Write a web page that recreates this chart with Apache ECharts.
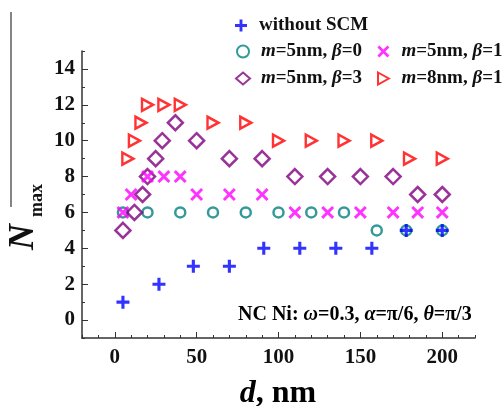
<!DOCTYPE html>
<html><head><meta charset="utf-8">
<script src="https://cdn.jsdelivr.net/npm/echarts@6/dist/echarts.min.js"></script>
<style>html,body{margin:0;padding:0;background:#fff}#c{width:504px;height:406px}</style>
</head><body><div id="c"></div>
<script>
// ---- data (d in nm, Nmax) ----
var noScmD = [5, 27, 48, 70, 91, 113, 135, 157, 178, 200];
var noScmN = [1, 2, 3, 3, 4, 4, 4, 4, 5, 5];
var b0D = [5, 20, 40, 60, 80, 100, 120, 140, 160, 178, 200];
var b0N = [6, 6, 6, 6, 6, 6, 6, 6, 5, 5, 5];
var b1D = [5, 10, 20, 30, 40, 50, 70, 90, 110, 130, 150, 170, 185, 200];
var b1N = [6, 7, 8, 8, 8, 7, 7, 7, 6, 6, 6, 6, 6, 6];
var b3D = [5, 12, 17, 20, 25, 29, 37, 50, 70, 90, 110, 130, 150, 170, 185, 200];
var b3N = [5, 6, 7, 8, 9, 10, 11, 10, 9, 9, 8, 8, 8, 8, 7, 7];
var m8D = [8, 12, 16, 20, 30, 40, 60, 80, 100, 120, 140, 160, 180, 200];
var m8N = [9, 10, 11, 12, 12, 12, 11, 11, 10, 10, 10, 10, 9, 9];
var xLabels = [0, 50, 100, 150, 200];
var yLabels = [0, 2, 4, 6, 8, 10, 12, 14];
var seriesNames = ['without SCM', 'm=5nm, β=0', 'm=5nm, β=1', 'm=5nm, β=3', 'm=8nm, β=1'];

function pairs(xs, ys) { return xs.map(function (x, i) { return [x, ys[i]]; }); }

var FONT = '"Liberation Serif", "Times New Roman", serif';
var PLUS = 'path://M3.8,0H6.2V3.8H10V6.2H6.2V10H3.8V6.2H0V3.8H3.8Z';
var CROSS = 'path://M0,1.6L1.6,0L5,3.4L8.4,0L10,1.6L6.6,5L10,8.4L8.4,10L5,6.6L1.6,10L0,8.4L3.4,5Z';
var RTRI = 'path://M0,0L9,5L0,10Z';

var legendRich = {
  i: { fontFamily: FONT, fontWeight: 'bold', fontStyle: 'italic', fontSize: 19, color: '#111', lineHeight: 18 },
  n: { fontFamily: FONT, fontWeight: 'bold', fontSize: 19, color: '#111', lineHeight: 18 }
};
function legendFmt(name) {
  if (name === 'without SCM') return '{n|without SCM}';
  var p = name.split(', ');
  return '{i|m}{n|' + p[0].slice(1) + ', }{i|β}{n|' + p[1].slice(1) + '}';
}
var legendBase = {
  orient: 'vertical', itemWidth: 14, itemHeight: 12, itemGap: 8,
  formatter: legendFmt,
  textStyle: { rich: legendRich, padding: [0, 0, 0, 6], lineHeight: 18 },
  selectedMode: false
};

var noZero = { show: true, onZero: false, lineStyle: { color: '#333', width: 1.5 } };

var chart = echarts.init(document.getElementById('c'), null, { renderer: 'canvas' });
chart.setOption({
  animation: false,
  backgroundColor: '#fff',
  grid: { left: 82, right: 29, top: 51, bottom: 68 },
  legend: [
    Object.assign({}, legendBase, { data: [seriesNames[0]], left: 230, top: 11 }),
    Object.assign({}, legendBase, { data: [seriesNames[1], seriesNames[3]], left: 230, top: 37 }),
    Object.assign({}, legendBase, { data: [seriesNames[2], seriesNames[4]], left: 372, top: 37 })
  ],
  xAxis: [{
    type: 'value', min: -20, max: 220, interval: 10,
    axisLine: noZero,
    axisTick: { show: true, inside: true, length: 3, lineStyle: { color: '#333' } },
    axisLabel: { show: false },
    splitLine: { show: false }
  }, {
    type: 'value', min: -20, max: 220, position: 'bottom',
    axisLine: { show: false, onZero: false },
    axisTick: { show: true, inside: true, length: 6, customValues: xLabels, lineStyle: { color: '#333' } },
    axisLabel: { show: true, customValues: xLabels, margin: 9, fontFamily: FONT, fontWeight: 'bold', fontSize: 21, color: '#111' },
    splitLine: { show: false }
  }],
  yAxis: [{
    type: 'value', min: -1, max: 15, interval: 1,
    axisLine: noZero,
    axisTick: { show: true, inside: true, length: 3, lineStyle: { color: '#333' } },
    axisLabel: { show: false },
    splitLine: { show: false }
  }, {
    type: 'value', min: -1, max: 15, position: 'left',
    axisLine: { show: false, onZero: false },
    axisTick: { show: true, inside: true, length: 6, customValues: yLabels, lineStyle: { color: '#333' } },
    axisLabel: { show: true, customValues: yLabels, margin: 7, fontFamily: FONT, fontWeight: 'bold', fontSize: 21, color: '#111' },
    splitLine: { show: false }
  }],
  series: [
    { name: seriesNames[0], type: 'scatter', data: pairs(noScmD, noScmN), symbol: PLUS, symbolSize: 13,
      itemStyle: { color: '#0000ff' }, z: 5 },
    { name: seriesNames[1], type: 'scatter', data: pairs(b0D, b0N), symbol: 'circle', symbolSize: 10,
      itemStyle: { color: 'rgba(0,0,0,0)', borderColor: '#008080', borderWidth: 2.5 }, z: 3 },
    { name: seriesNames[2], type: 'scatter', data: pairs(b1D, b1N), symbol: CROSS, symbolSize: 13,
      itemStyle: { color: '#ff00ff' }, z: 4 },
    { name: seriesNames[3], type: 'scatter', data: pairs(b3D, b3N), symbol: 'diamond', symbolSize: 15,
      itemStyle: { color: 'rgba(0,0,0,0)', borderColor: '#800080', borderWidth: 2.5 }, z: 3 },
    { name: seriesNames[4], type: 'scatter', data: pairs(m8D, m8N), symbol: RTRI, symbolSize: [11, 12],
      itemStyle: { color: 'rgba(0,0,0,0)', borderColor: '#ff0000', borderWidth: 2.5 }, z: 3 }
  ],
  graphic: [
    { type: 'line', shape: { x1: 11, y1: 12, x2: 11, y2: 207 }, style: { stroke: '#333', lineWidth: 1.2 } },
    { type: 'text', x: 42, y: 250, rotation: Math.PI / 2,
      style: { text: 'N', align: 'left', verticalAlign: 'bottom',
        fontFamily: FONT, fontWeight: 'bold', fontStyle: 'italic', fontSize: 36, fill: '#111' } },
    { type: 'text', x: 46, y: 217, rotation: Math.PI / 2,
      style: { text: 'max', align: 'left', verticalAlign: 'bottom',
        fontFamily: FONT, fontWeight: 'bold', fontSize: 18, fill: '#111' } },
    { type: 'text', x: 278, y: 410,
      style: { text: '{i|d}{n|, nm}', align: 'center', verticalAlign: 'bottom',
        rich: {
          i: { fontFamily: FONT, fontWeight: 'bold', fontStyle: 'italic', fontSize: 32, color: '#111' },
          n: { fontFamily: FONT, fontWeight: 'bold', fontSize: 32, color: '#111' }
        } } },
    { type: 'text', x: 238, y: 315,
      style: { text: '{n|NC Ni: }{i|ω}{n|=0.3, }{i|α}{n|=π/6, }{i|θ}{n|=π/3}', align: 'left', verticalAlign: 'middle',
        rich: {
          i: { fontFamily: FONT, fontWeight: 'bold', fontStyle: 'italic', fontSize: 20, color: '#111' },
          n: { fontFamily: FONT, fontWeight: 'bold', fontSize: 20, color: '#111' }
        } } }
  ]
});
</script></body></html>
